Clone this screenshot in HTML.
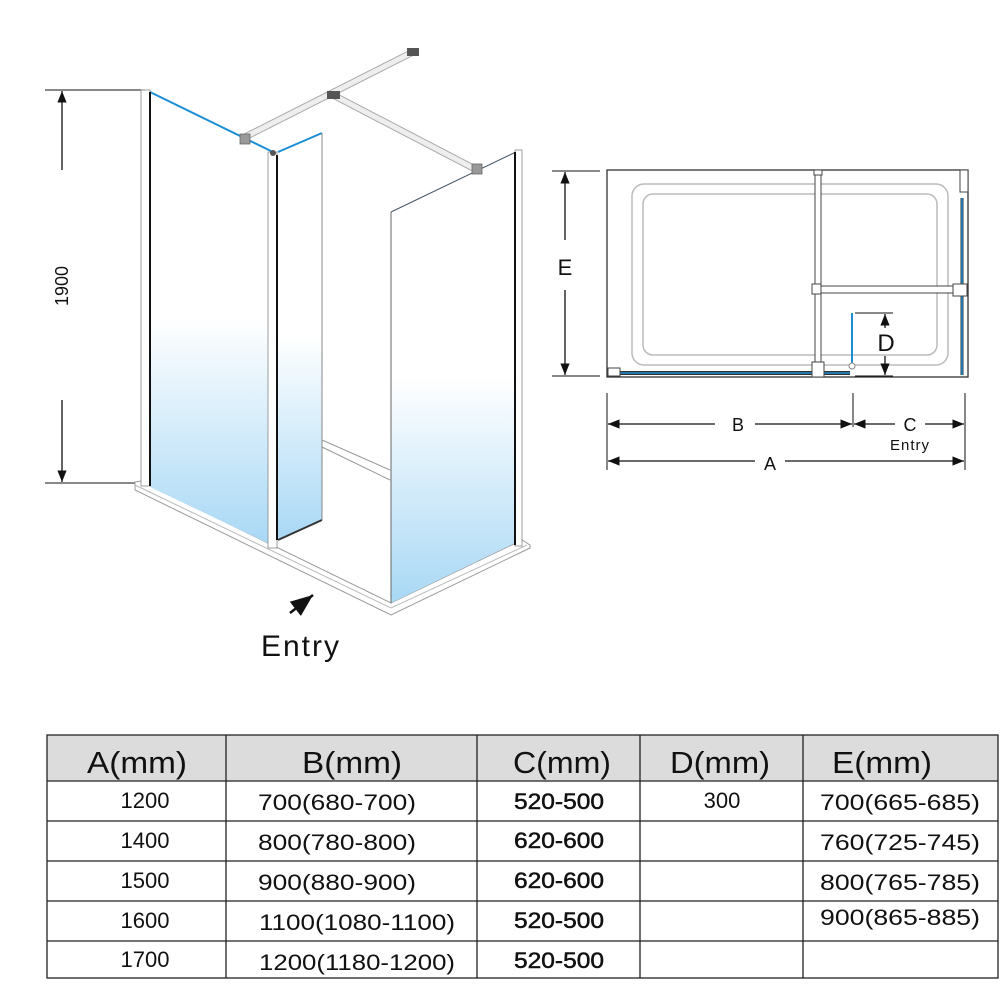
<!DOCTYPE html>
<html><head><meta charset="utf-8"><style>
html,body{margin:0;padding:0;background:#fff;width:1001px;height:1001px;overflow:hidden}
svg{display:block}
text{font-family:"Liberation Sans",sans-serif;fill:#111}
</style></head><body>
<svg width="1001" height="1001" viewBox="0 0 1001 1001" xmlns="http://www.w3.org/2000/svg">
<defs>
<linearGradient id="g" x1="0" y1="0" x2="0" y2="1">
<stop offset="0" stop-color="#fff"/><stop offset="0.5" stop-color="#fff"/><stop offset="1" stop-color="#a8d8f5"/>
</linearGradient>
<marker id="ar" viewBox="0 0 10 10" refX="10" refY="5" markerWidth="9" markerHeight="9" orient="auto-start-reverse"><path d="M0,1 L10,5 L0,9 Z" fill="#111"/></marker>
</defs>

<line x1="45" y1="90" x2="145" y2="90" stroke="#111" stroke-width="1"/>
<line x1="45" y1="483" x2="138" y2="483" stroke="#111" stroke-width="1"/>
<line x1="62" y1="170" x2="62" y2="91" stroke="#111" stroke-width="1.3" marker-end="url(#ar)"/>
<line x1="62" y1="400" x2="62" y2="482" stroke="#111" stroke-width="1.3" marker-end="url(#ar)"/>
<text x="0" y="0" font-size="18" text-anchor="middle" transform="translate(68,286) rotate(-90)">1900</text>

<polygon points="135,482 141,481 391,603 522,540 530,545 530,548 391,615 135,490" fill="#fff" stroke="#999" stroke-width="1"/>
<polyline points="135,485 391,608 527,545" fill="none" stroke="#bbb" stroke-width="1"/>
<line x1="322" y1="440" x2="390" y2="470" stroke="#999"/>
<line x1="322" y1="447" x2="390" y2="480" stroke="#999"/>

<polygon points="150,92 272,153 272,545 150,487" fill="url(#g)"/>
<line x1="150" y1="92" x2="275" y2="153" stroke="#1a8fd6" stroke-width="2"/>
<rect x="141" y="90" width="9" height="396" fill="#fff" stroke="#888" stroke-width="0.8"/>
<line x1="150" y1="92" x2="150" y2="486" stroke="#111" stroke-width="2"/>
<polygon points="278,153 322,133 322,520 278,540" fill="url(#g)"/>
<line x1="278" y1="152" x2="322" y2="133" stroke="#1a8fd6" stroke-width="2"/>
<line x1="322" y1="133" x2="322" y2="520" stroke="#888"/>
<line x1="278" y1="540" x2="322" y2="520" stroke="#333" stroke-width="2"/>
<rect x="268" y="152" width="9" height="396" fill="#fff" stroke="#888" stroke-width="0.8"/>
<line x1="277" y1="155" x2="277" y2="540" stroke="#111" stroke-width="2"/>
<circle cx="273" cy="153" r="3" fill="#555"/>

<polygon points="391,212 515,152 515,543 391,603" fill="url(#g)"/>
<line x1="391" y1="212" x2="518" y2="151" stroke="#456" stroke-width="1"/>
<line x1="391" y1="212" x2="391" y2="603" stroke="#666"/>
<rect x="515" y="150" width="7" height="396" fill="#fff" stroke="#888" stroke-width="0.8"/>
<line x1="515" y1="152" x2="515" y2="545" stroke="#111" stroke-width="2"/>

<line x1="245" y1="137" x2="413" y2="52" stroke="#aaa" stroke-width="7"/>
<line x1="245" y1="137" x2="413" y2="52" stroke="#eee" stroke-width="5"/>
<line x1="333" y1="95" x2="477" y2="170" stroke="#aaa" stroke-width="7"/>
<line x1="333" y1="95" x2="477" y2="170" stroke="#eee" stroke-width="5"/>
<rect x="240" y="134" width="10" height="10" fill="#999" stroke="#666" stroke-width="0.8"/>
<rect x="327" y="91" width="13" height="8" fill="#555"/>
<rect x="407" y="48" width="12" height="8" fill="#555"/>
<rect x="472" y="164" width="10" height="10" fill="#999" stroke="#666" stroke-width="0.8"/>

<line x1="290" y1="613" x2="313" y2="595" stroke="#111" stroke-width="2.5" marker-end="url(#ar)"/>
<text x="301" y="656" font-size="30" text-anchor="middle" letter-spacing="2">Entry</text>

<rect x="607" y="170" width="361" height="207" fill="#fff" stroke="#333" stroke-width="1.3"/>
<rect x="632" y="184" width="316" height="181" rx="12" fill="none" stroke="#bbb" stroke-width="1.5"/>
<rect x="643" y="194" width="294" height="161" rx="10" fill="none" stroke="#bbb" stroke-width="1.5"/>
<line x1="610" y1="373" x2="850" y2="373" stroke="#333" stroke-width="4"/>
<line x1="610" y1="373" x2="850" y2="373" stroke="#1a8fd6" stroke-width="1.5"/>
<line x1="962" y1="198" x2="962" y2="375" stroke="#333" stroke-width="3"/>
<line x1="962" y1="198" x2="962" y2="375" stroke="#1a8fd6" stroke-width="1.5"/>
<line x1="852" y1="313" x2="852" y2="365" stroke="#1a8fd6" stroke-width="2"/>
<circle cx="852" cy="366" r="3" fill="#fff" stroke="#888"/>
<rect x="815" y="172" width="6" height="205" fill="#fff" stroke="#444"/>
<rect x="818" y="286" width="148" height="7" fill="#fff" stroke="#444"/>
<rect x="812" y="284" width="9" height="10" fill="#fff" stroke="#444"/>
<rect x="953" y="284" width="14" height="12" fill="#fff" stroke="#444"/>
<rect x="812" y="362" width="12" height="15" fill="#fff" stroke="#444"/>
<rect x="608" y="368" width="12" height="8" fill="#fff" stroke="#444"/>
<rect x="960" y="170" width="8" height="22" fill="#fff" stroke="#444"/>
<rect x="814" y="170" width="8" height="5" fill="#fff" stroke="#444"/>
<line x1="855" y1="313" x2="893" y2="313" stroke="#111"/>
<line x1="855" y1="376" x2="893" y2="376" stroke="#111"/>
<line x1="885" y1="328" x2="885" y2="314" stroke="#111" stroke-width="1.3" marker-end="url(#ar)"/>
<line x1="885" y1="356" x2="885" y2="375" stroke="#111" stroke-width="1.3" marker-end="url(#ar)"/>
<text x="886" y="351" font-size="24" text-anchor="middle">D</text>
<line x1="552" y1="171" x2="600" y2="171" stroke="#111"/>
<line x1="552" y1="376" x2="600" y2="376" stroke="#111"/>
<line x1="565" y1="240" x2="565" y2="172" stroke="#111" stroke-width="1.3" marker-end="url(#ar)"/>
<line x1="565" y1="290" x2="565" y2="375" stroke="#111" stroke-width="1.3" marker-end="url(#ar)"/>
<text x="565" y="275" font-size="22" text-anchor="middle">E</text>
<line x1="607" y1="393" x2="607" y2="470" stroke="#111"/>
<line x1="853" y1="393" x2="853" y2="427" stroke="#111"/>
<line x1="965" y1="393" x2="965" y2="470" stroke="#111"/>
<line x1="715" y1="424" x2="608" y2="424" stroke="#111" stroke-width="1.3" marker-end="url(#ar)"/>
<line x1="755" y1="424" x2="852" y2="424" stroke="#111" stroke-width="1.3" marker-end="url(#ar)"/>
<line x1="895" y1="424" x2="854" y2="424" stroke="#111" stroke-width="1.3" marker-end="url(#ar)"/>
<line x1="925" y1="424" x2="964" y2="424" stroke="#111" stroke-width="1.3" marker-end="url(#ar)"/>
<line x1="755" y1="461" x2="608" y2="461" stroke="#111" stroke-width="1.3" marker-end="url(#ar)"/>
<line x1="785" y1="461" x2="964" y2="461" stroke="#111" stroke-width="1.3" marker-end="url(#ar)"/>
<text x="738" y="431" font-size="18" text-anchor="middle">B</text>
<text x="910" y="431" font-size="18" text-anchor="middle">C</text>
<text x="910" y="450" font-size="15" text-anchor="middle" letter-spacing="1">Entry</text>
<text x="770" y="470" font-size="18" text-anchor="middle">A</text>

<rect x="47" y="735" width="951" height="46" fill="#dcdcdc"/>
<g stroke="#222" stroke-width="1.3" fill="none">
<rect x="47" y="735" width="951" height="243"/>
<line x1="47" y1="781" x2="998" y2="781"/>
<line x1="47" y1="821" x2="998" y2="821"/>
<line x1="47" y1="861" x2="998" y2="861"/>
<line x1="47" y1="901" x2="998" y2="901"/>
<line x1="47" y1="941" x2="998" y2="941"/>
<line x1="226" y1="735" x2="226" y2="978"/>
<line x1="477" y1="735" x2="477" y2="978"/>
<line x1="640" y1="735" x2="640" y2="978"/>
<line x1="803" y1="735" x2="803" y2="978"/>
</g>
<g font-size="31" text-anchor="middle">
<text x="137" y="773" textLength="100" lengthAdjust="spacingAndGlyphs">A(mm)</text>
<text x="352" y="773" textLength="100" lengthAdjust="spacingAndGlyphs">B(mm)</text>
<text x="562" y="773" textLength="98" lengthAdjust="spacingAndGlyphs">C(mm)</text>
<text x="720" y="773" textLength="100" lengthAdjust="spacingAndGlyphs">D(mm)</text>
<text x="882" y="773" textLength="100" lengthAdjust="spacingAndGlyphs">E(mm)</text>
</g>
<g font-size="22" text-anchor="middle">
<text x="145" y="808">1200</text><text x="145" y="848">1400</text><text x="145" y="888">1500</text><text x="145" y="928">1600</text><text x="145" y="967">1700</text>
<text x="337" y="810" textLength="158" lengthAdjust="spacingAndGlyphs">700(680-700)</text><text x="337" y="850" textLength="158" lengthAdjust="spacingAndGlyphs">800(780-800)</text><text x="337" y="890" textLength="158" lengthAdjust="spacingAndGlyphs">900(880-900)</text><text x="357" y="930" textLength="196" lengthAdjust="spacingAndGlyphs">1100(1080-1100)</text><text x="357" y="970" textLength="196" lengthAdjust="spacingAndGlyphs">1200(1180-1200)</text>
<g stroke="#111" stroke-width="0.5"><text x="559" y="809" textLength="90" lengthAdjust="spacingAndGlyphs">520-500</text><text x="559" y="848" textLength="90" lengthAdjust="spacingAndGlyphs">620-600</text><text x="559" y="888" textLength="90" lengthAdjust="spacingAndGlyphs">620-600</text><text x="559" y="928" textLength="90" lengthAdjust="spacingAndGlyphs">520-500</text><text x="559" y="968" textLength="90" lengthAdjust="spacingAndGlyphs">520-500</text></g>
<text x="722" y="808">300</text>
<text x="900" y="810" textLength="160" lengthAdjust="spacingAndGlyphs">700(665-685)</text><text x="900" y="850" textLength="160" lengthAdjust="spacingAndGlyphs">760(725-745)</text><text x="900" y="890" textLength="160" lengthAdjust="spacingAndGlyphs">800(765-785)</text><text x="900" y="925" textLength="160" lengthAdjust="spacingAndGlyphs">900(865-885)</text>
</g>
</svg>
</body></html>
